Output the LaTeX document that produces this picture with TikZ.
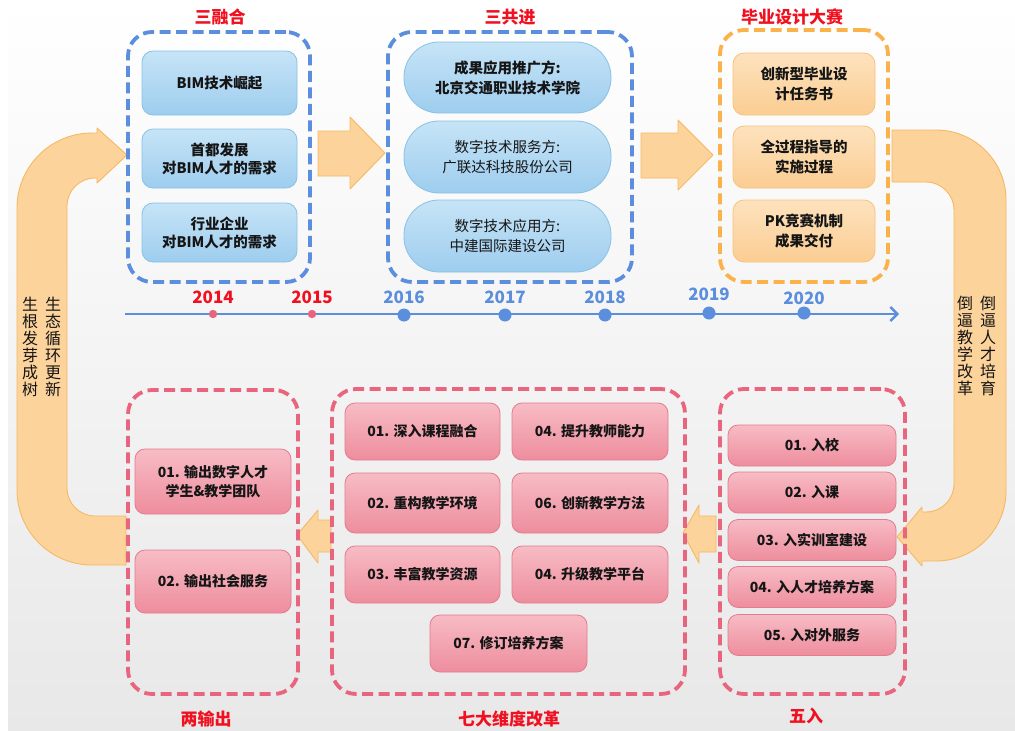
\documentclass[tikz,border=0pt]{standalone}
\usepackage{fontspec}
\setmainfont{Noto Sans CJK SC}
\usetikzlibrary{arrows.meta,shadings}
\definecolor{dblue}{HTML}{5B8FDD}
\definecolor{dorange}{HTML}{FBB24A}
\definecolor{dpink}{HTML}{E9657D}
\definecolor{tred}{HTML}{F01020}
\definecolor{arrfill}{HTML}{FDD39C}
\definecolor{arrline}{HTML}{F6B862}
\definecolor{txt}{HTML}{151515}
\begin{document}
\begin{tikzpicture}[x=1pt,y=-1pt,
  grp/.style={draw=#1, line width=3.8pt, dash pattern=on 11pt off 5.5pt, rounded corners=24pt, inner sep=0pt},
  bluebox/.style={draw=HTML88C1E6, line width=0.8pt, rounded corners=11pt, top color=BT, bottom color=BB, text=txt, align=center, inner sep=0pt, font=\fontsize{14.5}{18}\selectfont\bfseries},
  stad/.style={draw=HTML88C1E6, line width=0.8pt, rounded corners=35pt, top color=BT, bottom color=BB, text=txt, align=center, inner sep=0pt, font=\fontsize{14.5}{20}\selectfont},
  orbox/.style={draw=ORL, line width=0.8pt, rounded corners=11pt, top color=OT, bottom color=OB, text=txt, align=center, inner sep=0pt, font=\fontsize{14.5}{20}\selectfont\bfseries},
  pkbox/.style={draw=PKL, line width=0.8pt, rounded corners=10pt, top color=PT, bottom color=PB, text=txt, align=center, inner sep=0pt, font=\fontsize{14}{19}\selectfont\bfseries},
  ttl/.style={text=tred, font=\fontsize{17}{20}\selectfont\bfseries},
  yr/.style={font=\fontsize{17}{20}\selectfont\bfseries},
  vtxt/.style={text=txt, align=center, font=\fontsize{16}{17}\selectfont, inner sep=0pt},
  blk/.style={fill=arrfill, draw=arrline, line width=0.9pt, line join=round}
]
\colorlet{HTML88C1E6}{blue!0}
\definecolor{HTML88C1E6}{HTML}{88C1E6}
\definecolor{BT}{HTML}{C6E4F7}
\definecolor{BB}{HTML}{9ECDEE}
\definecolor{ORL}{HTML}{F8C27C}
\definecolor{OT}{HTML}{FDE2BE}
\definecolor{OB}{HTML}{FBCD92}
\definecolor{PKL}{HTML}{E27C8E}
\definecolor{PT}{HTML}{F7BCC5}
\definecolor{PB}{HTML}{EE8D9D}

\useasboundingbox (0,0) rectangle (1015,731);
\fill[white] (0,0) rectangle (1015,731);
\shade[top color=white, bottom color=black!9] (8,0) rectangle (1015,731);

% big curved arrows
\draw[blk] (126,565) -- (92,565) arc[start angle=90, end angle=180, radius=75] -- (17,208)
  arc[start angle=180, end angle=270, radius=75] -- (97,133) -- (97,128) -- (127,155) -- (97,183) -- (97,178)
  -- (95,178) arc[start angle=270, end angle=180, radius=28] -- (67,488)
  arc[start angle=180, end angle=90, radius=28] -- (126,516) -- cycle;
\draw[blk] (892,130) -- (936,130) arc[start angle=-90, end angle=0, radius=70] -- (1006,491)
  arc[start angle=0, end angle=90, radius=70] -- (922,561) -- (922,566) -- (897,537) -- (922,507) -- (922,512)
  -- (926,512) arc[start angle=90, end angle=0, radius=28] -- (954,210)
  arc[start angle=0, end angle=-90, radius=28] -- (892,182) -- cycle;

% straight block arrows
\draw[blk] (318,131) -- (350,131) -- (350,117) -- (385,153) -- (350,189) -- (350,176) -- (318,176) -- cycle;
\draw[blk] (641,133) -- (678,133) -- (678,120) -- (713,155) -- (678,190) -- (678,178) -- (641,178) -- cycle;
\draw[blk] (716,516) -- (699,516) -- (699,505) -- (683,533) -- (699,563) -- (699,552) -- (716,552) -- cycle;
\draw[blk] (331,520) -- (318,520) -- (318,510) -- (297,535) -- (318,563) -- (318,552) -- (331,552) -- cycle;

% vertical texts
\node[vtxt] (vl1) at (53,347) {生\\态\\循\\环\\更\\新};
\node[vtxt] (vl2) at (30,347) {生\\根\\发\\芽\\成\\树};
\node[vtxt] (vr1) at (988,346) {倒\\逼\\人\\才\\培\\育};
\node[vtxt] (vr2) at (965,346) {倒\\逼\\教\\学\\改\\革};

% top groups
\node[grp=dblue, minimum width=182pt, minimum height=250pt] (g1) at (219,157) {};
\node[ttl] (t1) at (220,17) {三融合};
\node[bluebox, minimum width=155pt, minimum height=64pt] (b11) at (219.5,83) {BIM技术崛起};
\node[bluebox, minimum width=155pt, minimum height=59pt] (b12) at (219.5,158.5) {首都发展\\对BIM人才的需求};
\node[bluebox, minimum width=155pt, minimum height=59pt] (b13) at (219.5,232.5) {行业企业\\对BIM人才的需求};

\node[grp=dblue, minimum width=244pt, minimum height=250pt] (g2) at (510,157) {};
\node[ttl] (t2) at (510,17) {三共进};
\node[stad, minimum width=207pt, minimum height=71pt, font=\fontsize{14.5}{20}\selectfont\bfseries] (s1) at (507.5,77.5) {成果应用推广方:\\北京交通职业技术学院};
\node[stad, minimum width=207pt, minimum height=72pt] (s2) at (507.5,157) {数字技术服务方:\\广联达科技股份公司};
\node[stad, minimum width=207pt, minimum height=72pt] (s3) at (507.5,236) {数字技术应用方:\\中建国际建设公司};

\node[grp=dorange, minimum width=168pt, minimum height=252pt] (g3) at (804,156) {};
\node[ttl] (t3) at (792,17) {毕业设计大赛};
\node[orbox, minimum width=142pt, minimum height=62pt] (o1) at (804,84) {创新型毕业设\\计任务书};
\node[orbox, minimum width=142pt, minimum height=62pt] (o2) at (804,157) {全过程指导的\\实施过程};
\node[orbox, minimum width=142pt, minimum height=62pt] (o3) at (804,231) {PK竞赛机制\\成果交付};

% timeline
\coordinate (ls) at (125,314);
\coordinate (le) at (899,314);
\draw[dblue, line width=2.6pt, -{Straight Barb[length=7pt,width=14pt,line width=2.4pt]}] (ls) -- (le);
\foreach \x/\y/\yy/\n in {213/314/297/2014, 312/314/297/2015}{
  \fill[dpink] (\x,\y) circle[radius=4.2];
  \node[yr, text=tred] at (\x,\yy) {\n};
}
\foreach \x/\y/\yy/\n in {404/315/297/2016, 505/315/297/2017, 605/315/297/2018, 709/313/294/2019, 804/313/298/2020}{
  \fill[dblue] (\x,\y) circle[radius=6.5];
  \node[yr, text=dblue] at (\x,\yy) {\n};
}

% bottom groups
\node[grp=dpink, minimum width=170pt, minimum height=304pt] (g4) at (213,542) {};
\node[ttl] (t4) at (206,719) {两输出};
\node[pkbox, minimum width=156pt, minimum height=65pt] (p41) at (213,481.5) {01. 输出数字人才\\学生\&教学团队};
\node[pkbox, minimum width=156pt, minimum height=63pt] (p42) at (213,581.5) {02. 输出社会服务};

\node[grp=dpink, minimum width=353pt, minimum height=305pt] (g5) at (508.5,541.5) {};
\node[ttl] (t5) at (509,719) {七大维度改革};
\node[pkbox, minimum width=155pt, minimum height=57pt] (p51) at (422.5,431.5) {01. 深入课程融合};
\node[pkbox, minimum width=155pt, minimum height=60pt] (p52) at (422.5,503) {02. 重构教学环境};
\node[pkbox, minimum width=155pt, minimum height=57pt] (p53) at (422.5,574.5) {03. 丰富教学资源};
\node[pkbox, minimum width=156pt, minimum height=57pt] (p54) at (590,431.5) {04. 提升教师能力};
\node[pkbox, minimum width=156pt, minimum height=60pt] (p55) at (590,503) {06. 创新教学方法};
\node[pkbox, minimum width=156pt, minimum height=57pt] (p56) at (590,574.5) {04. 升级教学平台};
\node[pkbox, minimum width=157pt, minimum height=57pt] (p57) at (508.5,643.5) {07. 修订培养方案};

\node[grp=dpink, minimum width=185pt, minimum height=305pt] (g6) at (812.5,541.5) {};
\node[ttl] (t6) at (806,716) {五入};
\node[pkbox, minimum width=168pt, minimum height=41pt] (p61) at (812,445.5) {01. 入校};
\node[pkbox, minimum width=168pt, minimum height=41pt] (p62) at (812,492.5) {02. 入课};
\node[pkbox, minimum width=168pt, minimum height=41pt] (p63) at (812,540) {03. 入实训室建设};
\node[pkbox, minimum width=168pt, minimum height=41pt] (p64) at (812,587) {04. 入人才培养方案};
\node[pkbox, minimum width=168pt, minimum height=41pt] (p65) at (812,635) {05. 入对外服务};
\end{tikzpicture}
\end{document}
